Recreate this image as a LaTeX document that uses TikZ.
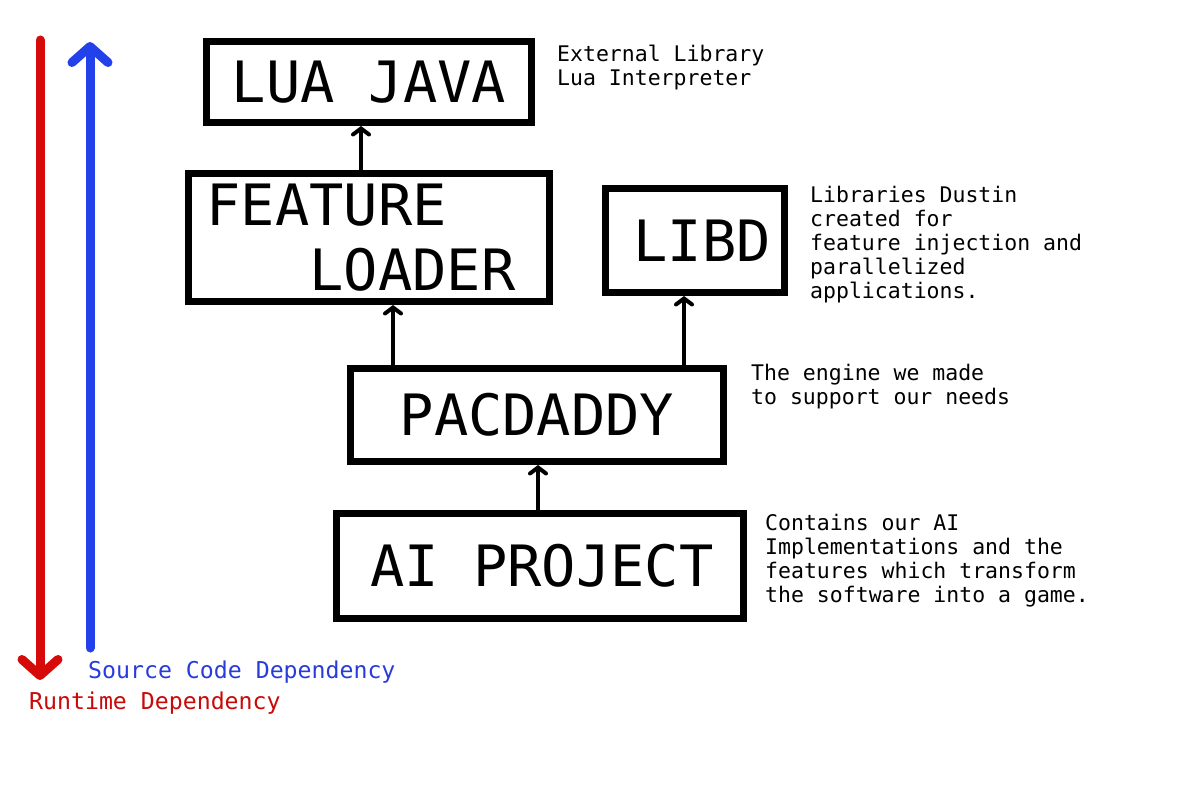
\documentclass[tikz,border=0pt]{standalone}
\usepackage{fontspec}
\newfontfamily\mono{DejaVu Sans Mono}
\usetikzlibrary{arrows.meta}
\definecolor{rtred}{RGB}{215,10,10}
\definecolor{rttext}{RGB}{200,10,10}
\definecolor{scblue}{RGB}{35,65,235}
\definecolor{sctext}{RGB}{40,60,220}
\tikzset{
  box/.style={draw, line width=7pt, inner sep=0pt, font={\mono\fontsize{57}{65}\selectfont}},
  note/.style={anchor=north west, inner sep=0pt, align=left, font={\mono\fontsize{21.5}{24}\selectfont}},
  legend/.style={anchor=west, inner sep=0pt, font={\mono\fontsize{23.2}{28}\selectfont}},
  dep/.style={line width=4pt, -{Straight Barb[length=6pt,width=16pt,line cap=round]}},
  bigarrow/.style={line width=9pt, line cap=round, -{Straight Barb[length=16pt,width=36pt,line cap=round,line join=round]}}
}
\begin{document}
\begin{tikzpicture}[x=1pt,y=-1pt]
\useasboundingbox (0,0) rectangle (1200,800);
\fill[white] (0,0) rectangle (1200,800);

% boxes
\node[box, minimum width=325pt, minimum height=81pt] (lua) at (369,82) {LUA JAVA};
\node[box, minimum width=361pt, minimum height=128pt, align=left] (feat) at (369,237.5) {\hspace*{-16pt}FEATURE\\\hspace*{-16pt}\phantom{LOA}LOADER};
\node[box, minimum width=179pt, minimum height=104pt] (libd) at (695,240.5) {\hspace*{14pt}LIBD};
\node[box, minimum width=373pt, minimum height=93pt] (pac) at (537,415) {PACDADDY};
\node[box, minimum width=407pt, minimum height=105pt] (ai) at (540,566) {\hspace*{4pt}AI PROJECT};

% dependency arrows
\draw[dep] ([xshift=-8pt]feat.north) -- ([xshift=-8pt]lua.south);
\draw[dep] ([xshift=-144pt]pac.north) -- ([xshift=24pt]feat.south);
\draw[dep] ([xshift=147pt]pac.north) -- ([xshift=-11pt]libd.south);
\draw[dep] ([xshift=-2pt]ai.north) -- ([xshift=1pt]pac.south);

% notes
\node[note] (nlua) at (557,45) {External Library\\Lua Interpreter};
\node[note] (nlibd) at (810,186) {Libraries Dustin\\created for\\feature injection and\\parallelized\\applications.};
\node[note] (npac) at (751,364) {The engine we made\\to support our needs};
\node[note] (nai) at (765,514) {Contains our AI\\Implementations and the\\features which transform\\the software into a game.};

% legend arrows
\coordinate (rtop) at (40,40);
\coordinate (rbot) at (40,680);
\coordinate (bbot) at (90,648);
\coordinate (btop) at (90,42);
\draw[bigarrow, rtred] (rtop) -- (rbot);
\draw[bigarrow, scblue] (bbot) -- (btop);
\node[legend, text=sctext] (lsc) at (88,672) {Source Code Dependency};
\node[legend, text=rttext] (lrt) at (29,703) {Runtime Dependency};
\end{tikzpicture}
\end{document}
